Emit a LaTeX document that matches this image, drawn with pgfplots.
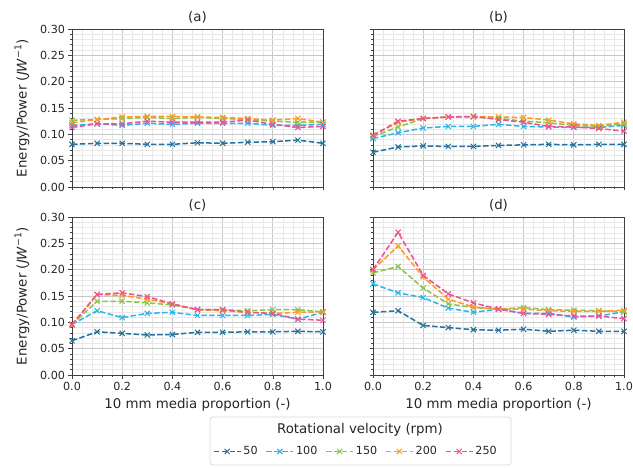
\documentclass[border=0pt]{standalone}
\usepackage{pgfplots}
\pgfplotsset{compat=1.18}
\usepackage{pgfplotstable}
\usepackage{fontspec}
\setmainfont{DejaVu Sans}

\definecolor{cA}{HTML}{24719C}
\definecolor{cB}{HTML}{2BB5E8}
\definecolor{cC}{HTML}{8CC34A}
\definecolor{cD}{HTML}{FF9A1F}
\definecolor{cE}{HTML}{EE4F96}

\pgfplotstableread{
x   s50   s100  s150  s200  s250
0.0 0.081 0.117 0.127 0.122 0.113
0.1 0.083 0.120 0.128 0.128 0.120
0.2 0.083 0.117 0.130 0.133 0.120
0.3 0.081 0.121 0.132 0.134 0.125
0.4 0.081 0.119 0.130 0.134 0.123
0.5 0.084 0.121 0.132 0.133 0.123
0.6 0.083 0.121 0.130 0.132 0.123
0.7 0.085 0.121 0.128 0.130 0.127
0.8 0.086 0.117 0.125 0.127 0.119
0.9 0.089 0.117 0.123 0.130 0.113
1.0 0.083 0.119 0.123 0.123 0.115
}\tabA

\pgfplotstableread{
x   s50   s100  s150  s200  s250
0.0 0.066 0.092 0.096 0.098 0.098
0.1 0.076 0.103 0.114 0.123 0.125
0.2 0.078 0.112 0.130 0.130 0.130
0.3 0.077 0.115 0.133 0.133 0.133
0.4 0.077 0.115 0.133 0.134 0.134
0.5 0.079 0.119 0.130 0.133 0.128
0.6 0.080 0.115 0.125 0.132 0.123
0.7 0.081 0.114 0.122 0.127 0.115
0.8 0.080 0.113 0.117 0.120 0.114
0.9 0.081 0.113 0.115 0.117 0.111
1.0 0.081 0.117 0.120 0.123 0.106
}\tabB

\pgfplotstableread{
x   s50   s100  s150  s200  s250
0.0 0.065 0.096 0.096 0.094 0.096
0.1 0.082 0.122 0.140 0.153 0.153
0.2 0.079 0.109 0.140 0.151 0.156
0.3 0.076 0.117 0.137 0.144 0.149
0.4 0.077 0.119 0.133 0.135 0.135
0.5 0.081 0.113 0.124 0.124 0.124
0.6 0.081 0.113 0.124 0.122 0.124
0.7 0.082 0.113 0.122 0.119 0.119
0.8 0.082 0.115 0.124 0.117 0.117
0.9 0.083 0.106 0.124 0.119 0.106
1.0 0.082 0.119 0.120 0.120 0.104
}\tabC

\pgfplotstableread{
x   s50   s100  s150  s200  s250
0.0 0.119 0.173 0.194 0.200 0.200
0.1 0.122 0.156 0.206 0.245 0.271
0.2 0.094 0.147 0.165 0.186 0.189
0.3 0.090 0.127 0.135 0.144 0.154
0.4 0.086 0.119 0.128 0.129 0.137
0.5 0.085 0.125 0.125 0.125 0.125
0.6 0.087 0.117 0.128 0.125 0.117
0.7 0.083 0.117 0.124 0.122 0.115
0.8 0.085 0.110 0.123 0.121 0.112
0.9 0.083 0.112 0.122 0.121 0.112
1.0 0.083 0.120 0.120 0.123 0.107
}\tabD

\pgfplotsset{
  every axis title/.style={font=\fontsize{13.4}{16}\selectfont, text=black!85,
      at={(axis description cs:0.5,1.072)}, anchor=center},
  panel/.style={
    width=251bp, height=158bp, scale only axis,
    xmin=0, xmax=1, ymin=0, ymax=0.3,
    xtick={0,0.2,0.4,0.6,0.8,1.0},
    ytick={0,0.05,0.10,0.15,0.20,0.25,0.30},
    minor x tick num=4, minor y tick num=4,
    grid=both,
    major grid style={draw=black!22, line width=0.9bp},
    minor grid style={draw=black!9, line width=0.5bp},
    axis line style={draw=black!75, line width=0.7bp},
    tick pos=left, tick align=outside,
    major tick length=3.5bp, minor tick length=2bp,
    every tick/.style={draw=black!75, line width=0.6bp},
    /pgf/number format/assume math mode=true,
    tick label style={font=\fontsize{11.2}{13}\selectfont, text=black!85},
    xticklabel style={/pgf/number format/.cd, fixed, zerofill, precision=1},
    yticklabel style={/pgf/number format/.cd, fixed, zerofill, precision=2},
    label style={font=\fontsize{13.4}{16}\selectfont, text=black!85},
    xlabel style={at={(axis description cs:0.5,-0.19)}, anchor=center},
    ylabel style={at={(axis description cs:-0.199,0.5)}, anchor=center},
    legend image code/.code={
      \draw[mark repeat=2, mark phase=2, ##1] plot coordinates {(0bp,0bp) (13.5bp,0bp) (27bp,0bp)};
    },
  },
  ser/.style={color=#1, dash pattern=on 5.5bp off 2.4bp, line width=1.5bp,
    mark=x, mark size=3.7bp, mark options={solid, line width=1bp}},
}

\newcommand{\allseries}[1]{%
  \addplot[ser=cA] table[x=x, y=s50] {#1};
  \addplot[ser=cB] table[x=x, y=s100] {#1};
  \addplot[ser=cC] table[x=x, y=s150] {#1};
  \addplot[ser=cD] table[x=x, y=s200] {#1};
  \addplot[ser=cE] table[x=x, y=s250] {#1};
}

\begin{document}
\begin{tikzpicture}
\path[use as bounding box] (0,0) rectangle (633bp,468bp);

\draw[rounded corners=3bp, draw=black!15, fill=white, line width=0.8bp] (210bp,3bp) rectangle (511bp,51bp);
\node[font=\fontsize{13.4}{16}\selectfont, text=black!85] at (360bp,38bp) {Rotational velocity (rpm)};

\begin{axis}[panel, at={(72bp,281bp)}, anchor=south west,
  title={(a)}, xticklabels={},
  ylabel={Energy/Power (\textit{JW}\textsuperscript{−1})}]
\allseries{\tabA}
\end{axis}

\begin{axis}[panel, at={(373bp,281bp)}, anchor=south west,
  title={(b)}, xticklabels={}, yticklabels={}]
\allseries{\tabB}
\end{axis}

\begin{axis}[panel, at={(72bp,93bp)}, anchor=south west,
  title={(c)},
  xlabel={10 mm media proportion (-)},
  ylabel={Energy/Power (\textit{JW}\textsuperscript{−1})},
  legend columns=5,
  legend style={at={(1.131,-0.484)}, anchor=center, draw=none, fill=none,
    font=\fontsize{11.2}{13}\selectfont, text=black!85,
    /tikz/every even column/.append style={column sep=6bp}},
  legend entries={50,100,150,200,250}]
\allseries{\tabC}
\end{axis}

\begin{axis}[panel, at={(373bp,93bp)}, anchor=south west,
  title={(d)}, yticklabels={},
  xlabel={10 mm media proportion (-)}]
\allseries{\tabD}
\end{axis}
\end{tikzpicture}
\end{document}
